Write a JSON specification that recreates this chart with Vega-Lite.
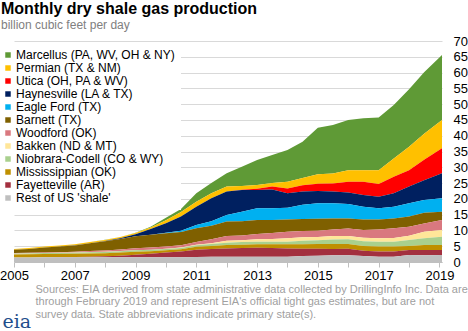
{
"$schema": "https://vega.github.io/schema/vega-lite/v6.json",
"width": 428, "height": 221,
"autosize": {"type": "none"},
"padding": {"left": 14, "top": 41, "right": 26, "bottom": 69},
"background": "white",
"config": {"font": "Liberation Sans", "view": {"stroke": null}},
"title": {"text": "Monthly dry shale gas production", "subtitle": "billion cubic feet per day", "anchor": "start", "frame": "group", "dx": -13, "offset": 4, "fontSize": 16, "fontWeight": "bold", "color": "#000000", "subtitleFontSize": 12, "subtitleColor": "#808080", "subtitlePadding": 3},
"datasets": {"shale": [
{"date":"2005/01/01","play":"Marcellus (PA, WV, OH & NY)","v":0},{"date":"2005/01/01","play":"Permian (TX & NM)","v":0.28},{"date":"2005/01/01","play":"Utica (OH, PA & WV)","v":0},{"date":"2005/01/01","play":"Haynesville (LA & TX)","v":0.02},{"date":"2005/01/01","play":"Eagle Ford (TX)","v":0},{"date":"2005/01/01","play":"Barnett (TX)","v":1.0},{"date":"2005/01/01","play":"Woodford (OK)","v":0.15},{"date":"2005/01/01","play":"Bakken (ND & MT)","v":0.05},{"date":"2005/01/01","play":"Niobrara-Codell (CO & WY)","v":0.25},{"date":"2005/01/01","play":"Mississippian (OK)","v":1.0},{"date":"2005/01/01","play":"Fayetteville (AR)","v":0},{"date":"2005/01/01","play":"Rest of US 'shale'","v":1.4},
{"date":"2005/07/01","play":"Marcellus (PA, WV, OH & NY)","v":0},{"date":"2005/07/01","play":"Permian (TX & NM)","v":0.3},{"date":"2005/07/01","play":"Utica (OH, PA & WV)","v":0},{"date":"2005/07/01","play":"Haynesville (LA & TX)","v":0.02},{"date":"2005/07/01","play":"Eagle Ford (TX)","v":0},{"date":"2005/07/01","play":"Barnett (TX)","v":1.2},{"date":"2005/07/01","play":"Woodford (OK)","v":0.15},{"date":"2005/07/01","play":"Bakken (ND & MT)","v":0.05},{"date":"2005/07/01","play":"Niobrara-Codell (CO & WY)","v":0.25},{"date":"2005/07/01","play":"Mississippian (OK)","v":1.0},{"date":"2005/07/01","play":"Fayetteville (AR)","v":0},{"date":"2005/07/01","play":"Rest of US 'shale'","v":1.45},
{"date":"2006/01/01","play":"Marcellus (PA, WV, OH & NY)","v":0},{"date":"2006/01/01","play":"Permian (TX & NM)","v":0.3},{"date":"2006/01/01","play":"Utica (OH, PA & WV)","v":0},{"date":"2006/01/01","play":"Haynesville (LA & TX)","v":0.03},{"date":"2006/01/01","play":"Eagle Ford (TX)","v":0},{"date":"2006/01/01","play":"Barnett (TX)","v":1.55},{"date":"2006/01/01","play":"Woodford (OK)","v":0.15},{"date":"2006/01/01","play":"Bakken (ND & MT)","v":0.05},{"date":"2006/01/01","play":"Niobrara-Codell (CO & WY)","v":0.3},{"date":"2006/01/01","play":"Mississippian (OK)","v":1.0},{"date":"2006/01/01","play":"Fayetteville (AR)","v":0.02},{"date":"2006/01/01","play":"Rest of US 'shale'","v":1.5},
{"date":"2006/07/01","play":"Marcellus (PA, WV, OH & NY)","v":0},{"date":"2006/07/01","play":"Permian (TX & NM)","v":0.3},{"date":"2006/07/01","play":"Utica (OH, PA & WV)","v":0},{"date":"2006/07/01","play":"Haynesville (LA & TX)","v":0.03},{"date":"2006/07/01","play":"Eagle Ford (TX)","v":0},{"date":"2006/07/01","play":"Barnett (TX)","v":1.8},{"date":"2006/07/01","play":"Woodford (OK)","v":0.2},{"date":"2006/07/01","play":"Bakken (ND & MT)","v":0.05},{"date":"2006/07/01","play":"Niobrara-Codell (CO & WY)","v":0.3},{"date":"2006/07/01","play":"Mississippian (OK)","v":1.0},{"date":"2006/07/01","play":"Fayetteville (AR)","v":0.05},{"date":"2006/07/01","play":"Rest of US 'shale'","v":1.5},
{"date":"2007/01/01","play":"Marcellus (PA, WV, OH & NY)","v":0},{"date":"2007/01/01","play":"Permian (TX & NM)","v":0.3},{"date":"2007/01/01","play":"Utica (OH, PA & WV)","v":0},{"date":"2007/01/01","play":"Haynesville (LA & TX)","v":0.05},{"date":"2007/01/01","play":"Eagle Ford (TX)","v":0},{"date":"2007/01/01","play":"Barnett (TX)","v":2.0},{"date":"2007/01/01","play":"Woodford (OK)","v":0.25},{"date":"2007/01/01","play":"Bakken (ND & MT)","v":0.05},{"date":"2007/01/01","play":"Niobrara-Codell (CO & WY)","v":0.35},{"date":"2007/01/01","play":"Mississippian (OK)","v":1.0},{"date":"2007/01/01","play":"Fayetteville (AR)","v":0.1},{"date":"2007/01/01","play":"Rest of US 'shale'","v":1.5},
{"date":"2007/07/01","play":"Marcellus (PA, WV, OH & NY)","v":0},{"date":"2007/07/01","play":"Permian (TX & NM)","v":0.33},{"date":"2007/07/01","play":"Utica (OH, PA & WV)","v":0},{"date":"2007/07/01","play":"Haynesville (LA & TX)","v":0.07},{"date":"2007/07/01","play":"Eagle Ford (TX)","v":0},{"date":"2007/07/01","play":"Barnett (TX)","v":2.45},{"date":"2007/07/01","play":"Woodford (OK)","v":0.3},{"date":"2007/07/01","play":"Bakken (ND & MT)","v":0.05},{"date":"2007/07/01","play":"Niobrara-Codell (CO & WY)","v":0.4},{"date":"2007/07/01","play":"Mississippian (OK)","v":1.0},{"date":"2007/07/01","play":"Fayetteville (AR)","v":0.2},{"date":"2007/07/01","play":"Rest of US 'shale'","v":1.5},
{"date":"2008/01/01","play":"Marcellus (PA, WV, OH & NY)","v":0.02},{"date":"2008/01/01","play":"Permian (TX & NM)","v":0.35},{"date":"2008/01/01","play":"Utica (OH, PA & WV)","v":0},{"date":"2008/01/01","play":"Haynesville (LA & TX)","v":0.1},{"date":"2008/01/01","play":"Eagle Ford (TX)","v":0},{"date":"2008/01/01","play":"Barnett (TX)","v":2.9},{"date":"2008/01/01","play":"Woodford (OK)","v":0.4},{"date":"2008/01/01","play":"Bakken (ND & MT)","v":0.05},{"date":"2008/01/01","play":"Niobrara-Codell (CO & WY)","v":0.4},{"date":"2008/01/01","play":"Mississippian (OK)","v":1.0},{"date":"2008/01/01","play":"Fayetteville (AR)","v":0.3},{"date":"2008/01/01","play":"Rest of US 'shale'","v":1.5},
{"date":"2008/07/01","play":"Marcellus (PA, WV, OH & NY)","v":0.05},{"date":"2008/07/01","play":"Permian (TX & NM)","v":0.35},{"date":"2008/07/01","play":"Utica (OH, PA & WV)","v":0},{"date":"2008/07/01","play":"Haynesville (LA & TX)","v":0.3},{"date":"2008/07/01","play":"Eagle Ford (TX)","v":0},{"date":"2008/07/01","play":"Barnett (TX)","v":3.3},{"date":"2008/07/01","play":"Woodford (OK)","v":0.5},{"date":"2008/07/01","play":"Bakken (ND & MT)","v":0.05},{"date":"2008/07/01","play":"Niobrara-Codell (CO & WY)","v":0.4},{"date":"2008/07/01","play":"Mississippian (OK)","v":1.0},{"date":"2008/07/01","play":"Fayetteville (AR)","v":0.5},{"date":"2008/07/01","play":"Rest of US 'shale'","v":1.5},
{"date":"2009/01/01","play":"Marcellus (PA, WV, OH & NY)","v":0.1},{"date":"2009/01/01","play":"Permian (TX & NM)","v":0.4},{"date":"2009/01/01","play":"Utica (OH, PA & WV)","v":0},{"date":"2009/01/01","play":"Haynesville (LA & TX)","v":0.6},{"date":"2009/01/01","play":"Eagle Ford (TX)","v":0.02},{"date":"2009/01/01","play":"Barnett (TX)","v":3.8},{"date":"2009/01/01","play":"Woodford (OK)","v":0.6},{"date":"2009/01/01","play":"Bakken (ND & MT)","v":0.05},{"date":"2009/01/01","play":"Niobrara-Codell (CO & WY)","v":0.45},{"date":"2009/01/01","play":"Mississippian (OK)","v":0.95},{"date":"2009/01/01","play":"Fayetteville (AR)","v":0.8},{"date":"2009/01/01","play":"Rest of US 'shale'","v":1.5},
{"date":"2009/07/01","play":"Marcellus (PA, WV, OH & NY)","v":0.3},{"date":"2009/07/01","play":"Permian (TX & NM)","v":0.45},{"date":"2009/07/01","play":"Utica (OH, PA & WV)","v":0},{"date":"2009/07/01","play":"Haynesville (LA & TX)","v":1.8},{"date":"2009/07/01","play":"Eagle Ford (TX)","v":0.05},{"date":"2009/07/01","play":"Barnett (TX)","v":4.0},{"date":"2009/07/01","play":"Woodford (OK)","v":0.7},{"date":"2009/07/01","play":"Bakken (ND & MT)","v":0.05},{"date":"2009/07/01","play":"Niobrara-Codell (CO & WY)","v":0.45},{"date":"2009/07/01","play":"Mississippian (OK)","v":0.8},{"date":"2009/07/01","play":"Fayetteville (AR)","v":1.1},{"date":"2009/07/01","play":"Rest of US 'shale'","v":1.5},
{"date":"2010/01/01","play":"Marcellus (PA, WV, OH & NY)","v":0.8},{"date":"2010/01/01","play":"Permian (TX & NM)","v":0.9},{"date":"2010/01/01","play":"Utica (OH, PA & WV)","v":0},{"date":"2010/01/01","play":"Haynesville (LA & TX)","v":3.0},{"date":"2010/01/01","play":"Eagle Ford (TX)","v":0.2},{"date":"2010/01/01","play":"Barnett (TX)","v":4.2},{"date":"2010/01/01","play":"Woodford (OK)","v":0.7},{"date":"2010/01/01","play":"Bakken (ND & MT)","v":0.1},{"date":"2010/01/01","play":"Niobrara-Codell (CO & WY)","v":0.4},{"date":"2010/01/01","play":"Mississippian (OK)","v":0.7},{"date":"2010/01/01","play":"Fayetteville (AR)","v":1.5},{"date":"2010/01/01","play":"Rest of US 'shale'","v":1.5},
{"date":"2010/07/01","play":"Marcellus (PA, WV, OH & NY)","v":1.0},{"date":"2010/07/01","play":"Permian (TX & NM)","v":1.4},{"date":"2010/07/01","play":"Utica (OH, PA & WV)","v":0},{"date":"2010/07/01","play":"Haynesville (LA & TX)","v":4.5},{"date":"2010/07/01","play":"Eagle Ford (TX)","v":0.4},{"date":"2010/07/01","play":"Barnett (TX)","v":4.2},{"date":"2010/07/01","play":"Woodford (OK)","v":0.7},{"date":"2010/07/01","play":"Bakken (ND & MT)","v":0.2},{"date":"2010/07/01","play":"Niobrara-Codell (CO & WY)","v":0.4},{"date":"2010/07/01","play":"Mississippian (OK)","v":0.7},{"date":"2010/07/01","play":"Fayetteville (AR)","v":1.8},{"date":"2010/07/01","play":"Rest of US 'shale'","v":1.5},
{"date":"2011/01/01","play":"Marcellus (PA, WV, OH & NY)","v":2.7},{"date":"2011/01/01","play":"Permian (TX & NM)","v":1.6},{"date":"2011/01/01","play":"Utica (OH, PA & WV)","v":0},{"date":"2011/01/01","play":"Haynesville (LA & TX)","v":5.8},{"date":"2011/01/01","play":"Eagle Ford (TX)","v":1.0},{"date":"2011/01/01","play":"Barnett (TX)","v":4.4},{"date":"2011/01/01","play":"Woodford (OK)","v":0.8},{"date":"2011/01/01","play":"Bakken (ND & MT)","v":0.2},{"date":"2011/01/01","play":"Niobrara-Codell (CO & WY)","v":0.5},{"date":"2011/01/01","play":"Mississippian (OK)","v":0.9},{"date":"2011/01/01","play":"Fayetteville (AR)","v":2.3},{"date":"2011/01/01","play":"Rest of US 'shale'","v":1.6},
{"date":"2011/07/01","play":"Marcellus (PA, WV, OH & NY)","v":3.2},{"date":"2011/07/01","play":"Permian (TX & NM)","v":1.6},{"date":"2011/07/01","play":"Utica (OH, PA & WV)","v":0},{"date":"2011/07/01","play":"Haynesville (LA & TX)","v":7.3},{"date":"2011/07/01","play":"Eagle Ford (TX)","v":1.4},{"date":"2011/07/01","play":"Barnett (TX)","v":4.3},{"date":"2011/07/01","play":"Woodford (OK)","v":1.3},{"date":"2011/07/01","play":"Bakken (ND & MT)","v":0.2},{"date":"2011/07/01","play":"Niobrara-Codell (CO & WY)","v":0.6},{"date":"2011/07/01","play":"Mississippian (OK)","v":1.0},{"date":"2011/07/01","play":"Fayetteville (AR)","v":2.4},{"date":"2011/07/01","play":"Rest of US 'shale'","v":1.7},
{"date":"2012/01/01","play":"Marcellus (PA, WV, OH & NY)","v":4.2},{"date":"2012/01/01","play":"Permian (TX & NM)","v":1.6},{"date":"2012/01/01","play":"Utica (OH, PA & WV)","v":0},{"date":"2012/01/01","play":"Haynesville (LA & TX)","v":7.4},{"date":"2012/01/01","play":"Eagle Ford (TX)","v":2.1},{"date":"2012/01/01","play":"Barnett (TX)","v":4.6},{"date":"2012/01/01","play":"Woodford (OK)","v":1.5},{"date":"2012/01/01","play":"Bakken (ND & MT)","v":0.6},{"date":"2012/01/01","play":"Niobrara-Codell (CO & WY)","v":0.7},{"date":"2012/01/01","play":"Mississippian (OK)","v":1.1},{"date":"2012/01/01","play":"Fayetteville (AR)","v":2.6},{"date":"2012/01/01","play":"Rest of US 'shale'","v":1.7},
{"date":"2012/07/01","play":"Marcellus (PA, WV, OH & NY)","v":6.1},{"date":"2012/07/01","play":"Permian (TX & NM)","v":1.25},{"date":"2012/07/01","play":"Utica (OH, PA & WV)","v":0.05},{"date":"2012/07/01","play":"Haynesville (LA & TX)","v":6.9},{"date":"2012/07/01","play":"Eagle Ford (TX)","v":3.0},{"date":"2012/07/01","play":"Barnett (TX)","v":4.5},{"date":"2012/07/01","play":"Woodford (OK)","v":1.5},{"date":"2012/07/01","play":"Bakken (ND & MT)","v":0.6},{"date":"2012/07/01","play":"Niobrara-Codell (CO & WY)","v":0.8},{"date":"2012/07/01","play":"Mississippian (OK)","v":1.1},{"date":"2012/07/01","play":"Fayetteville (AR)","v":2.7},{"date":"2012/07/01","play":"Rest of US 'shale'","v":1.7},
{"date":"2013/01/01","play":"Marcellus (PA, WV, OH & NY)","v":7.9},{"date":"2013/01/01","play":"Permian (TX & NM)","v":1.2},{"date":"2013/01/01","play":"Utica (OH, PA & WV)","v":0.4},{"date":"2013/01/01","play":"Haynesville (LA & TX)","v":5.8},{"date":"2013/01/01","play":"Eagle Ford (TX)","v":3.7},{"date":"2013/01/01","play":"Barnett (TX)","v":4.4},{"date":"2013/01/01","play":"Woodford (OK)","v":1.7},{"date":"2013/01/01","play":"Bakken (ND & MT)","v":0.8},{"date":"2013/01/01","play":"Niobrara-Codell (CO & WY)","v":0.8},{"date":"2013/01/01","play":"Mississippian (OK)","v":1.1},{"date":"2013/01/01","play":"Fayetteville (AR)","v":2.8},{"date":"2013/01/01","play":"Rest of US 'shale'","v":1.7},
{"date":"2013/07/01","play":"Marcellus (PA, WV, OH & NY)","v":8.9},{"date":"2013/07/01","play":"Permian (TX & NM)","v":1.1},{"date":"2013/07/01","play":"Utica (OH, PA & WV)","v":0.9},{"date":"2013/07/01","play":"Haynesville (LA & TX)","v":6.0},{"date":"2013/07/01","play":"Eagle Ford (TX)","v":3.7},{"date":"2013/07/01","play":"Barnett (TX)","v":4.1},{"date":"2013/07/01","play":"Woodford (OK)","v":1.9},{"date":"2013/07/01","play":"Bakken (ND & MT)","v":0.9},{"date":"2013/07/01","play":"Niobrara-Codell (CO & WY)","v":0.8},{"date":"2013/07/01","play":"Mississippian (OK)","v":1.2},{"date":"2013/07/01","play":"Fayetteville (AR)","v":2.7},{"date":"2013/07/01","play":"Rest of US 'shale'","v":1.7},
{"date":"2014/01/01","play":"Marcellus (PA, WV, OH & NY)","v":10.1},{"date":"2014/01/01","play":"Permian (TX & NM)","v":2.1},{"date":"2014/01/01","play":"Utica (OH, PA & WV)","v":1.5},{"date":"2014/01/01","play":"Haynesville (LA & TX)","v":4.6},{"date":"2014/01/01","play":"Eagle Ford (TX)","v":3.7},{"date":"2014/01/01","play":"Barnett (TX)","v":3.9},{"date":"2014/01/01","play":"Woodford (OK)","v":2.1},{"date":"2014/01/01","play":"Bakken (ND & MT)","v":1.1},{"date":"2014/01/01","play":"Niobrara-Codell (CO & WY)","v":0.8},{"date":"2014/01/01","play":"Mississippian (OK)","v":1.3},{"date":"2014/01/01","play":"Fayetteville (AR)","v":2.6},{"date":"2014/01/01","play":"Rest of US 'shale'","v":1.7},
{"date":"2014/07/01","play":"Marcellus (PA, WV, OH & NY)","v":11.5},{"date":"2014/07/01","play":"Permian (TX & NM)","v":2.3},{"date":"2014/07/01","play":"Utica (OH, PA & WV)","v":2.0},{"date":"2014/07/01","play":"Haynesville (LA & TX)","v":4.2},{"date":"2014/07/01","play":"Eagle Ford (TX)","v":4.5},{"date":"2014/07/01","play":"Barnett (TX)","v":3.8},{"date":"2014/07/01","play":"Woodford (OK)","v":2.0},{"date":"2014/07/01","play":"Bakken (ND & MT)","v":1.1},{"date":"2014/07/01","play":"Niobrara-Codell (CO & WY)","v":1.1},{"date":"2014/07/01","play":"Mississippian (OK)","v":1.4},{"date":"2014/07/01","play":"Fayetteville (AR)","v":2.3},{"date":"2014/07/01","play":"Rest of US 'shale'","v":1.9},
{"date":"2015/01/01","play":"Marcellus (PA, WV, OH & NY)","v":14.7},{"date":"2015/01/01","play":"Permian (TX & NM)","v":3.0},{"date":"2015/01/01","play":"Utica (OH, PA & WV)","v":2.3},{"date":"2015/01/01","play":"Haynesville (LA & TX)","v":3.9},{"date":"2015/01/01","play":"Eagle Ford (TX)","v":4.9},{"date":"2015/01/01","play":"Barnett (TX)","v":3.8},{"date":"2015/01/01","play":"Woodford (OK)","v":2.0},{"date":"2015/01/01","play":"Bakken (ND & MT)","v":1.0},{"date":"2015/01/01","play":"Niobrara-Codell (CO & WY)","v":1.2},{"date":"2015/01/01","play":"Mississippian (OK)","v":1.5},{"date":"2015/01/01","play":"Fayetteville (AR)","v":2.2},{"date":"2015/01/01","play":"Rest of US 'shale'","v":2.0},
{"date":"2015/07/01","play":"Marcellus (PA, WV, OH & NY)","v":15.4},{"date":"2015/07/01","play":"Permian (TX & NM)","v":3.1},{"date":"2015/07/01","play":"Utica (OH, PA & WV)","v":2.6},{"date":"2015/07/01","play":"Haynesville (LA & TX)","v":3.7},{"date":"2015/07/01","play":"Eagle Ford (TX)","v":4.8},{"date":"2015/07/01","play":"Barnett (TX)","v":3.5},{"date":"2015/07/01","play":"Woodford (OK)","v":2.1},{"date":"2015/07/01","play":"Bakken (ND & MT)","v":1.1},{"date":"2015/07/01","play":"Niobrara-Codell (CO & WY)","v":1.4},{"date":"2015/07/01","play":"Mississippian (OK)","v":1.6},{"date":"2015/07/01","play":"Fayetteville (AR)","v":2.0},{"date":"2015/07/01","play":"Rest of US 'shale'","v":2.1},
{"date":"2016/01/01","play":"Marcellus (PA, WV, OH & NY)","v":15.9},{"date":"2016/01/01","play":"Permian (TX & NM)","v":3.7},{"date":"2016/01/01","play":"Utica (OH, PA & WV)","v":3.4},{"date":"2016/01/01","play":"Haynesville (LA & TX)","v":3.6},{"date":"2016/01/01","play":"Eagle Ford (TX)","v":4.6},{"date":"2016/01/01","play":"Barnett (TX)","v":3.2},{"date":"2016/01/01","play":"Woodford (OK)","v":2.4},{"date":"2016/01/01","play":"Bakken (ND & MT)","v":1.0},{"date":"2016/01/01","play":"Niobrara-Codell (CO & WY)","v":1.5},{"date":"2016/01/01","play":"Mississippian (OK)","v":1.5},{"date":"2016/01/01","play":"Fayetteville (AR)","v":2.1},{"date":"2016/01/01","play":"Rest of US 'shale'","v":2.1},
{"date":"2016/07/01","play":"Marcellus (PA, WV, OH & NY)","v":16.4},{"date":"2016/07/01","play":"Permian (TX & NM)","v":3.7},{"date":"2016/07/01","play":"Utica (OH, PA & WV)","v":4.2},{"date":"2016/07/01","play":"Haynesville (LA & TX)","v":3.7},{"date":"2016/07/01","play":"Eagle Ford (TX)","v":4.0},{"date":"2016/07/01","play":"Barnett (TX)","v":3.4},{"date":"2016/07/01","play":"Woodford (OK)","v":2.4},{"date":"2016/07/01","play":"Bakken (ND & MT)","v":1.1},{"date":"2016/07/01","play":"Niobrara-Codell (CO & WY)","v":1.5},{"date":"2016/07/01","play":"Mississippian (OK)","v":1.5},{"date":"2016/07/01","play":"Fayetteville (AR)","v":1.7},{"date":"2016/07/01","play":"Rest of US 'shale'","v":1.9},
{"date":"2017/01/01","play":"Marcellus (PA, WV, OH & NY)","v":16.7},{"date":"2017/01/01","play":"Permian (TX & NM)","v":4.4},{"date":"2017/01/01","play":"Utica (OH, PA & WV)","v":4.0},{"date":"2017/01/01","play":"Haynesville (LA & TX)","v":3.7},{"date":"2017/01/01","play":"Eagle Ford (TX)","v":3.5},{"date":"2017/01/01","play":"Barnett (TX)","v":3.2},{"date":"2017/01/01","play":"Woodford (OK)","v":2.8},{"date":"2017/01/01","play":"Bakken (ND & MT)","v":1.1},{"date":"2017/01/01","play":"Niobrara-Codell (CO & WY)","v":1.5},{"date":"2017/01/01","play":"Mississippian (OK)","v":1.6},{"date":"2017/01/01","play":"Fayetteville (AR)","v":1.6},{"date":"2017/01/01","play":"Rest of US 'shale'","v":1.7},
{"date":"2017/07/01","play":"Marcellus (PA, WV, OH & NY)","v":16.9},{"date":"2017/07/01","play":"Permian (TX & NM)","v":5.8},{"date":"2017/07/01","play":"Utica (OH, PA & WV)","v":5.2},{"date":"2017/07/01","play":"Haynesville (LA & TX)","v":4.3},{"date":"2017/07/01","play":"Eagle Ford (TX)","v":3.7},{"date":"2017/07/01","play":"Barnett (TX)","v":3.1},{"date":"2017/07/01","play":"Woodford (OK)","v":3.1},{"date":"2017/07/01","play":"Bakken (ND & MT)","v":1.2},{"date":"2017/07/01","play":"Niobrara-Codell (CO & WY)","v":1.5},{"date":"2017/07/01","play":"Mississippian (OK)","v":1.6},{"date":"2017/07/01","play":"Fayetteville (AR)","v":1.6},{"date":"2017/07/01","play":"Rest of US 'shale'","v":1.7},
{"date":"2018/01/01","play":"Marcellus (PA, WV, OH & NY)","v":18.2},{"date":"2018/01/01","play":"Permian (TX & NM)","v":7.4},{"date":"2018/01/01","play":"Utica (OH, PA & WV)","v":5.2},{"date":"2018/01/01","play":"Haynesville (LA & TX)","v":5.3},{"date":"2018/01/01","play":"Eagle Ford (TX)","v":4.2},{"date":"2018/01/01","play":"Barnett (TX)","v":3.2},{"date":"2018/01/01","play":"Woodford (OK)","v":2.9},{"date":"2018/01/01","play":"Bakken (ND & MT)","v":1.3},{"date":"2018/01/01","play":"Niobrara-Codell (CO & WY)","v":1.9},{"date":"2018/01/01","play":"Mississippian (OK)","v":1.3},{"date":"2018/01/01","play":"Fayetteville (AR)","v":1.6},{"date":"2018/01/01","play":"Rest of US 'shale'","v":2.2},
{"date":"2018/07/01","play":"Marcellus (PA, WV, OH & NY)","v":19.5},{"date":"2018/07/01","play":"Permian (TX & NM)","v":8.2},{"date":"2018/07/01","play":"Utica (OH, PA & WV)","v":6.5},{"date":"2018/07/01","play":"Haynesville (LA & TX)","v":6.3},{"date":"2018/07/01","play":"Eagle Ford (TX)","v":4.0},{"date":"2018/07/01","play":"Barnett (TX)","v":3.4},{"date":"2018/07/01","play":"Woodford (OK)","v":2.6},{"date":"2018/07/01","play":"Bakken (ND & MT)","v":2.1},{"date":"2018/07/01","play":"Niobrara-Codell (CO & WY)","v":2.1},{"date":"2018/07/01","play":"Mississippian (OK)","v":1.6},{"date":"2018/07/01","play":"Fayetteville (AR)","v":1.7},{"date":"2018/07/01","play":"Rest of US 'shale'","v":2.1},
{"date":"2019/02/01","play":"Marcellus (PA, WV, OH & NY)","v":20.6},{"date":"2019/02/01","play":"Permian (TX & NM)","v":9.0},{"date":"2019/02/01","play":"Utica (OH, PA & WV)","v":7.9},{"date":"2019/02/01","play":"Haynesville (LA & TX)","v":7.9},{"date":"2019/02/01","play":"Eagle Ford (TX)","v":4.3},{"date":"2019/02/01","play":"Barnett (TX)","v":2.6},{"date":"2019/02/01","play":"Woodford (OK)","v":3.2},{"date":"2019/02/01","play":"Bakken (ND & MT)","v":2.1},{"date":"2019/02/01","play":"Niobrara-Codell (CO & WY)","v":2.6},{"date":"2019/02/01","play":"Mississippian (OK)","v":1.6},{"date":"2019/02/01","play":"Fayetteville (AR)","v":1.6},{"date":"2019/02/01","play":"Rest of US 'shale'","v":2.2}
]},
"data": {"name": "shale"},
"transform": [{"calculate": "indexof(['Marcellus (PA, WV, OH & NY)', 'Permian (TX & NM)', 'Utica (OH, PA & WV)', 'Haynesville (LA & TX)', 'Eagle Ford (TX)', 'Barnett (TX)', 'Woodford (OK)', 'Bakken (ND & MT)', 'Niobrara-Codell (CO & WY)', 'Mississippian (OK)', 'Fayetteville (AR)', \"Rest of US 'shale'\"], datum.play)", "as": "stackrank"}],
"mark": {"type": "area", "interpolate": "linear", "opacity": 1},
"encoding": {
  "x": {"field": "date", "type": "temporal",
    "scale": {"domain": [{"year": 2005, "month": 1, "date": 1}, {"year": 2019, "month": 2, "date": 1}]},
    "axis": {
      "values": [{"year":2005,"month":1,"date":1},{"year":2006,"month":1,"date":1},{"year":2007,"month":1,"date":1},{"year":2008,"month":1,"date":1},{"year":2009,"month":1,"date":1},{"year":2010,"month":1,"date":1},{"year":2011,"month":1,"date":1},{"year":2012,"month":1,"date":1},{"year":2013,"month":1,"date":1},{"year":2014,"month":1,"date":1},{"year":2015,"month":1,"date":1},{"year":2016,"month":1,"date":1},{"year":2017,"month":1,"date":1},{"year":2018,"month":1,"date":1},{"year":2019,"month":1,"date":1}],
      "labelExpr": "year(datum.value) % 2 == 1 ? timeFormat(datum.value, '%Y') : ''",
      "labelOverlap": false, "labelFlush": false,
      "grid": false, "domainColor": "#bfbfbf", "tickColor": "#bfbfbf", "tickSize": 5,
      "labelFontSize": 13, "labelColor": "#000000", "labelPadding": 2,
      "title": ["Sources: EIA derived from state administrative data collected by DrillingInfo Inc. Data are", "through February 2019  and represent EIA's  official tight gas estimates, but are not", "survey data. State abbreviations indicate primary state(s)."],
      "titleFontSize": 11, "titleFontWeight": "normal", "titleColor": "#a0a0a0",
      "titleAnchor": "start", "titleAlign": "left", "titleBaseline": "top",
      "titleX": 21, "titleY": 21, "titleLineHeight": 12.5
    }},
  "y": {"field": "v", "type": "quantitative", "stack": "zero",
    "scale": {"domain": [0, 70], "nice": false},
    "axis": {"orient": "right", "values": [0,5,10,15,20,25,30,35,40,45,50,55,60,65,70],
      "grid": true, "gridColor": "#d9d9d9", "domain": false, "ticks": false,
      "labelAlign": "left", "labelPadding": 11, "labelFontSize": 13, "labelColor": "#000000",
      "title": "eia", "titleAngle": 0, "titleX": -440, "titleY": 286, "titleAlign": "left",
      "titleBaseline": "alphabetic", "titleFont": "DejaVu Serif", "titleFontSize": 19,
      "titleColor": "#1f4e8c", "titleFontWeight": "normal"}},
  "order": {"field": "stackrank", "type": "quantitative", "sort": "descending"},
  "color": {"field": "play", "type": "nominal",
    "sort": ["Marcellus (PA, WV, OH & NY)", "Permian (TX & NM)", "Utica (OH, PA & WV)", "Haynesville (LA & TX)", "Eagle Ford (TX)", "Barnett (TX)", "Woodford (OK)", "Bakken (ND & MT)", "Niobrara-Codell (CO & WY)", "Mississippian (OK)", "Fayetteville (AR)", "Rest of US 'shale'"],
    "scale": {"domain": ["Marcellus (PA, WV, OH & NY)", "Permian (TX & NM)", "Utica (OH, PA & WV)", "Haynesville (LA & TX)", "Eagle Ford (TX)", "Barnett (TX)", "Woodford (OK)", "Bakken (ND & MT)", "Niobrara-Codell (CO & WY)", "Mississippian (OK)", "Fayetteville (AR)", "Rest of US 'shale'"],
      "range": ["#5f9a36", "#ffc000", "#ff0000", "#002060", "#00b0f0", "#7f6000", "#d9787f", "#ffe699", "#a9d08e", "#bf9000", "#a3303f", "#bfbfbf"]},
    "legend": {"orient": "none", "legendX": -18, "legendY": 2, "title": null, "fillColor": "white",
      "padding": 6, "symbolType": "square", "symbolSize": 30, "symbolStrokeWidth": 0, "symbolOpacity": 1,
      "labelFontSize": 12, "labelColor": "#000000", "labelOffset": 2, "rowPadding": 1, "labelLimit": 300}}
}
}
